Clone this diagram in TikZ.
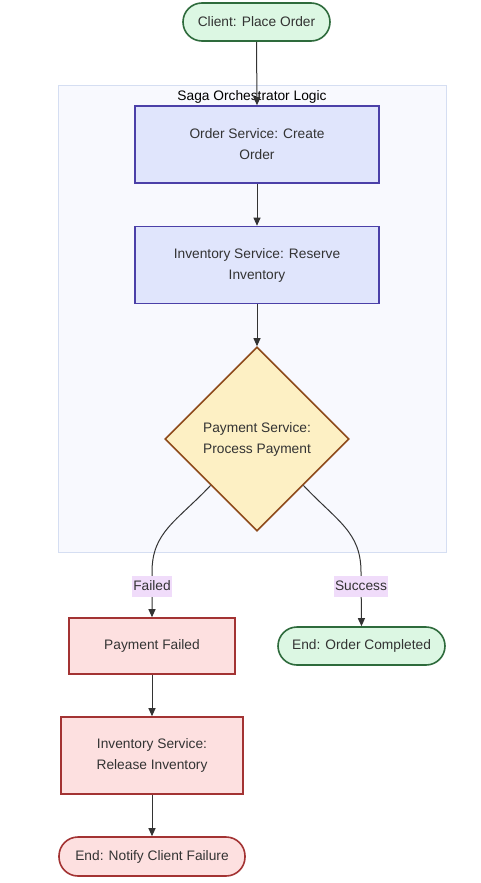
\documentclass[tikz,border=0pt]{standalone}
\usepackage{fontspec}
\setmainfont{Liberation Sans}
\usetikzlibrary{shapes.geometric,arrows.meta}
\definecolor{greenfill}{HTML}{DCF7E3}
\definecolor{greendraw}{HTML}{2E6B3C}
\definecolor{bluefill}{HTML}{E0E5FC}
\definecolor{bluedraw}{HTML}{4B40A8}
\definecolor{yelfill}{HTML}{FDF0C4}
\definecolor{yeldraw}{HTML}{8E4A1A}
\definecolor{redfill}{HTML}{FDE0E0}
\definecolor{reddraw}{HTML}{A33333}
\definecolor{lblfill}{HTML}{F0DCFA}
\definecolor{clfill}{HTML}{F8F9FE}
\definecolor{cldraw}{HTML}{D5DEF2}
\definecolor{edgecol}{HTML}{333333}
\definecolor{txt}{HTML}{333333}
\tikzset{
  base/.style={font=\fontsize{13.75}{21}\selectfont, text=txt, align=center, line width=1.6pt, inner sep=0pt},
  stadium/.style={base, rectangle, rounded corners=19pt, minimum height=38pt, fill=greenfill, draw=greendraw},
  redstadium/.style={stadium, fill=redfill, draw=reddraw},
  bluebox/.style={base, rectangle, minimum width=244pt, minimum height=77pt, fill=bluefill, draw=bluedraw},
  redbox/.style={base, rectangle, fill=redfill, draw=reddraw},
  decision/.style={base, diamond, aspect=1, minimum width=184pt, minimum height=184pt, fill=yelfill, draw=yeldraw},
  edge/.style={draw=edgecol, line width=1pt, -{Triangle[length=8pt,width=7pt]}},
  lbl/.style={font=\fontsize{13.75}{16}\selectfont, text=txt, fill=lblfill, inner xsep=1pt, inner ysep=0pt, text height=10.5pt, text depth=3pt, minimum height=21pt},
  cluster/.style={rectangle, fill=clfill, draw=cldraw, line width=1pt}
}
\begin{document}
\begin{tikzpicture}[x=1pt,y=-1pt]
\useasboundingbox (0,0) rectangle (480,883);
\fill[white] (0,0) rectangle (480,883);
% cluster
\node[cluster, minimum width=388pt, minimum height=467pt] (cl) at (252,318.5) {};
\node[font=\fontsize{13.75}{16}\selectfont, text=black, inner sep=0pt] (cllbl) at (252,96.5) {Saga Orchestrator Logic};
% nodes
\node[stadium, minimum width=147pt] (client) at (256.5,22) {Client: Place Order};
\node[bluebox] (order) at (257,144.5) {Order Service: Create\\Order};
\node[bluebox] (reserve) at (257,265) {Inventory Service: Reserve\\Inventory};
\node[decision] (pay) at (257,439) {Payment Service:\\Process Payment};
\node[redbox, minimum width=166pt, minimum height=56pt] (pf) at (152,646) {Payment Failed};
\node[stadium, minimum width=167pt] (oc) at (361.5,646) {End: Order Completed};
\node[redbox, minimum width=182pt, minimum height=77pt] (release) at (152,755.5) {Inventory Service:\\Release Inventory};
\node[redstadium, minimum width=186pt, minimum height=39pt] (fail) at (152,856.5) {End: Notify Client Failure};
% bend coordinates
\coordinate (fb) at (152,572);
\coordinate (sb) at (361,572);
% edges
\draw[edge] (client.south) -- (order.north);
\draw[edge] (order.south) -- (reserve.north);
\draw[edge] (reserve.south) -- (pay.north);
\draw[edge] (pay.south west) .. controls +(-34,36) and (152,532) .. (fb) -- (pf.north);
\draw[edge] (pay.south east) .. controls +(34,36) and (361,532) .. (sb) -- (oc.north);
\draw[edge] (pf.south) -- (release.north);
\draw[edge] (release.south) -- (fail.north);
% edge labels
\node[lbl] (lf) at (152,586.5) {Failed};
\node[lbl] (ls) at (361,586.5) {Success};
\end{tikzpicture}
\end{document}
